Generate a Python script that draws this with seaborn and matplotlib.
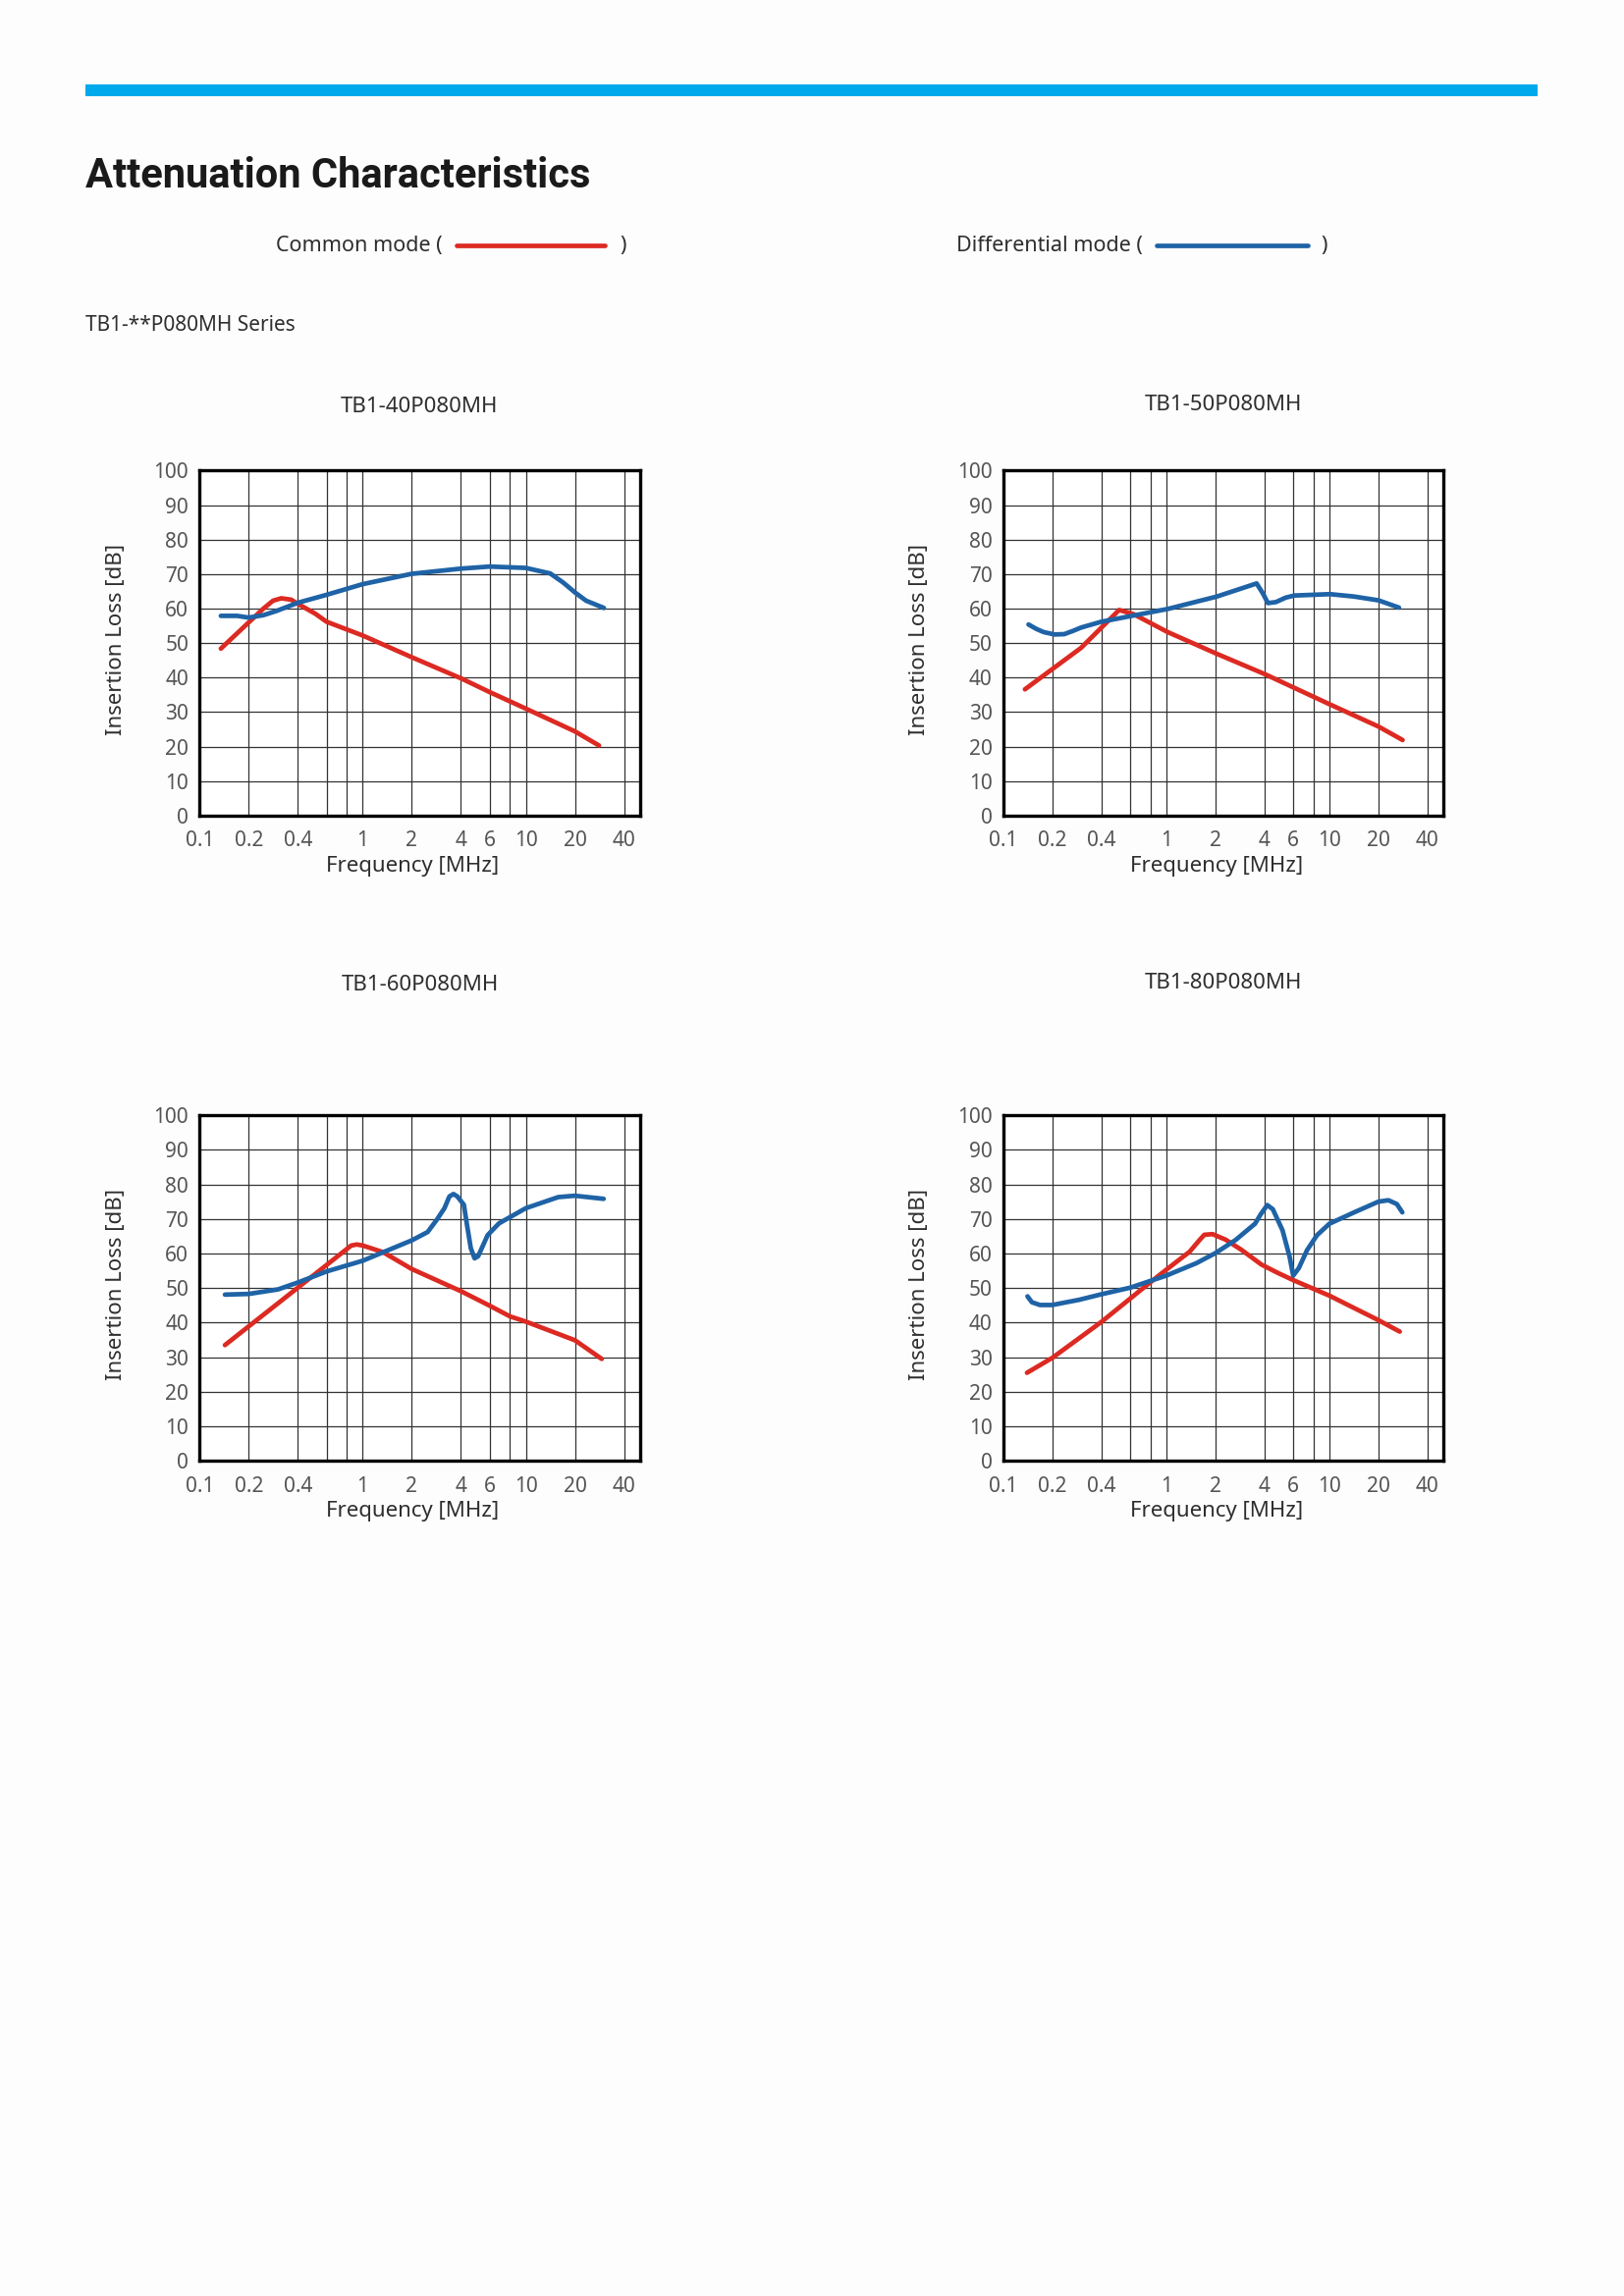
import pandas as pd
import seaborn as sns
import matplotlib.pyplot as plt
from matplotlib.patches import Rectangle
from matplotlib.lines import Line2D
from matplotlib.ticker import NullFormatter

# --- curves (frequency in MHz, insertion loss in dB) ---
models = ["TB1-40P080MH", "TB1-50P080MH", "TB1-60P080MH", "TB1-80P080MH"]

cm_freq_40 = [0.135, 0.2, 0.246, 0.282, 0.317, 0.364, 0.4, 0.513, 0.6, 1.0, 2.0, 4.0, 6.0, 10.0, 20.0, 28.1]
cm_loss_40 = [48.4, 56.0, 60.0, 62.3, 63.0, 62.6, 61.4, 58.5, 56.2, 52.2, 45.9, 39.8, 35.8, 31.0, 24.4, 20.3]
dm_freq_40 = [0.135, 0.170, 0.2, 0.246, 0.295, 0.4, 0.6, 1.0, 2.0, 4.0, 6.0, 10.0, 14.1, 16.9, 20.0, 23.4, 30.1]
dm_loss_40 = [57.9, 57.9, 57.4, 58.1, 59.3, 61.7, 64.0, 67.1, 70.1, 71.6, 72.2, 71.8, 70.2, 67.6, 64.7, 62.3, 60.2]

cm_freq_50 = [0.136, 0.3, 0.514, 0.63, 1.02, 2.04, 4.02, 10.1, 20.0, 28.1]
cm_loss_50 = [36.6, 48.6, 59.6, 58.4, 53.2, 46.9, 41.0, 32.2, 25.8, 21.9]
dm_freq_50 = [0.143, 0.16, 0.177, 0.207, 0.237, 0.27, 0.30, 0.4, 0.615, 1.02, 2.04, 3.58, 3.9, 4.2, 4.7, 5.4, 6.1, 10.1, 14.2, 20.0, 26.7]
dm_loss_50 = [55.4, 54.1, 53.2, 52.5, 52.6, 53.6, 54.5, 56.2, 57.9, 59.9, 63.5, 67.3, 64.5, 61.6, 61.9, 63.2, 63.8, 64.2, 63.5, 62.4, 60.3]

cm_freq_60 = [0.143, 0.4, 0.78, 0.85, 0.92, 1.0, 1.33, 2.0, 4.0, 6.0, 8.0, 10.0, 20.0, 29.2]
cm_loss_60 = [33.5, 50.1, 60.9, 62.3, 62.6, 62.3, 60.4, 55.5, 49.1, 44.9, 41.8, 40.3, 34.9, 29.5]
dm_freq_60 = [0.143, 0.2, 0.302, 0.4, 0.6, 1.0, 2.0, 2.5, 2.85, 3.17, 3.4, 3.6, 3.8, 4.17, 4.35, 4.6, 4.85, 5.1, 5.4, 5.83, 6.84, 10.0, 15.8, 20.0, 30.0]
dm_loss_60 = [48.1, 48.3, 49.6, 51.6, 54.8, 57.9, 63.8, 66.2, 69.8, 73.1, 76.5, 77.2, 76.5, 74.1, 68.5, 61.5, 58.6, 59.2, 61.8, 65.3, 68.7, 73.1, 76.3, 76.7, 75.8]

cm_freq_80 = [0.140, 0.2, 0.4, 0.8, 1.0, 1.39, 1.60, 1.71, 1.92, 2.31, 2.9, 3.83, 4.82, 6.0, 10.0, 20.0, 27.0]
cm_loss_80 = [25.5, 29.8, 40.2, 51.7, 55.3, 60.5, 63.9, 65.4, 65.6, 64.0, 61.0, 56.8, 54.4, 52.3, 47.8, 40.7, 37.4]
dm_freq_80 = [0.141, 0.150, 0.168, 0.2, 0.292, 0.4, 0.6, 1.0, 1.53, 2.0, 2.66, 3.5, 3.8, 4.16, 4.5, 5.16, 5.7, 6.0, 6.5, 7.3, 8.4, 10.0, 14.2, 20.0, 23.0, 25.9, 28.0]
dm_loss_80 = [47.6, 45.9, 45.1, 45.1, 46.6, 48.2, 50.1, 53.6, 57.2, 60.1, 63.9, 68.6, 71.4, 74.0, 72.8, 66.7, 59.1, 53.6, 55.8, 61.0, 65.3, 68.6, 71.9, 75.0, 75.4, 74.3, 71.9]

curves = {
    "TB1-40P080MH": (cm_freq_40, cm_loss_40, dm_freq_40, dm_loss_40),
    "TB1-50P080MH": (cm_freq_50, cm_loss_50, dm_freq_50, dm_loss_50),
    "TB1-60P080MH": (cm_freq_60, cm_loss_60, dm_freq_60, dm_loss_60),
    "TB1-80P080MH": (cm_freq_80, cm_loss_80, dm_freq_80, dm_loss_80),
}

label_ticks = [0.1, 0.2, 0.4, 1, 2, 4, 6, 10, 20, 40]
label_text = ["0.1", "0.2", "0.4", "1", "2", "4", "6", "10", "20", "40"]
grid_ticks = [0.2, 0.4, 0.6, 0.8, 1, 2, 4, 6, 8, 10, 20, 40]
y_ticks = list(range(0, 101, 10))

RED = "#dc2a22"
BLUE = "#1f63a6"
palette = {"Common mode": RED, "Differential mode": BLUE}
TXT = "#2e2e2e"

sns.set_theme(style="white")
plt.rcParams["font.family"] = ["Noto Sans", "DejaVu Sans"]

fig = plt.figure(figsize=(16.54, 23.39), dpi=100)
fig.patch.set_facecolor("#fdfdfd")

# --- page header ---
fig.add_artist(Rectangle((0.0523, 0.9579), 0.8945, 0.0052, transform=fig.transFigure,
                         color="#00a9ec", lw=0))
fig.text(0.0525, 0.9183, "Attenuation Characteristics", fontsize=30, fontweight="bold",
         family=["Roboto", "DejaVu Sans"], color="#1a1a1a", va="baseline")

fig.text(0.1697, 0.8904, "Common mode (", fontsize=15.5, color=TXT, va="baseline")
fig.add_artist(Line2D([0.2811, 0.3725], [0.8933, 0.8933], transform=fig.transFigure, color=RED, lw=3.4))
fig.text(0.3815, 0.8904, ")", fontsize=15.5, color=TXT, va="baseline")

fig.text(0.5889, 0.8904, "Differential mode (", fontsize=15.5, color=TXT, va="baseline")
fig.add_artist(Line2D([0.7124, 0.8055], [0.8933, 0.8933], transform=fig.transFigure, color=BLUE, lw=3.4))
fig.text(0.8132, 0.8904, ")", fontsize=15.5, color=TXT, va="baseline")

fig.text(0.0525, 0.8558, "TB1-**P080MH Series", fontsize=15, color=TXT, va="baseline")

# --- four charts ---
positions = [
    [0.1229, 0.6448, 0.2711, 0.1502],
    [0.6177, 0.6448, 0.2711, 0.1502],
    [0.1229, 0.3637, 0.2711, 0.1506],
    [0.6177, 0.3637, 0.2711, 0.1506],
]
title_y = [1.169, 1.174, 1.361, 1.366]
xlabel_y = [-0.164, -0.164, -0.161, -0.161]

for i, name in enumerate(models):
    cm_f, cm_l, dm_f, dm_l = curves[name]
    df = pd.concat([
        pd.DataFrame({"freq": cm_f, "loss": cm_l, "mode": "Common mode"}),
        pd.DataFrame({"freq": dm_f, "loss": dm_l, "mode": "Differential mode"}),
    ])

    ax = fig.add_axes(positions[i])
    ax.set_facecolor("white")
    sns.lineplot(data=df, x="freq", y="loss", hue="mode", palette=palette,
                 estimator=None, sort=False, linewidth=3.4, legend=False, ax=ax)
    for line in ax.lines:
        line.set_solid_capstyle("round")
        line.set_solid_joinstyle("round")

    ax.set_xscale("log")
    ax.set_xlim(0.1, 50)
    ax.set_ylim(0, 100)
    ax.set_xticks(label_ticks)
    ax.set_xticklabels(label_text)
    ax.set_xticks(grid_ticks, minor=True)
    ax.xaxis.set_minor_formatter(NullFormatter())
    ax.set_yticks(y_ticks)
    ax.set_xlabel("")
    ax.set_ylabel("")
    ax.tick_params(which="both", length=0, labelsize=15, labelcolor="#555555")
    ax.tick_params(axis="x", pad=11)
    ax.tick_params(axis="y", pad=8)

    # vertical lines at every labelled frequency plus 0.6, 0.8 and 8
    ax.grid(False)
    ax.grid(which="both", axis="x", color="#333333", lw=0.9)
    ax.grid(which="major", axis="y", color="#333333", lw=0.9)
    ax.set_axisbelow(True)
    for sp in ax.spines.values():
        sp.set_visible(True)
        sp.set_color("black")
        sp.set_linewidth(2.4)

    ax.text(0.484, xlabel_y[i], "Frequency [MHz]", transform=ax.transAxes, ha="center",
            va="baseline", fontsize=16, color=TXT)
    ax.text(-0.189, 0.51, "Insertion Loss [dB]", transform=ax.transAxes, ha="center",
            va="center", rotation=90, fontsize=16, color=TXT)
    ax.text(0.5, title_y[i], name, transform=ax.transAxes, ha="center", va="baseline",
            fontsize=16, color=TXT)

fig.savefig("out.png", dpi=100, facecolor=fig.get_facecolor())
